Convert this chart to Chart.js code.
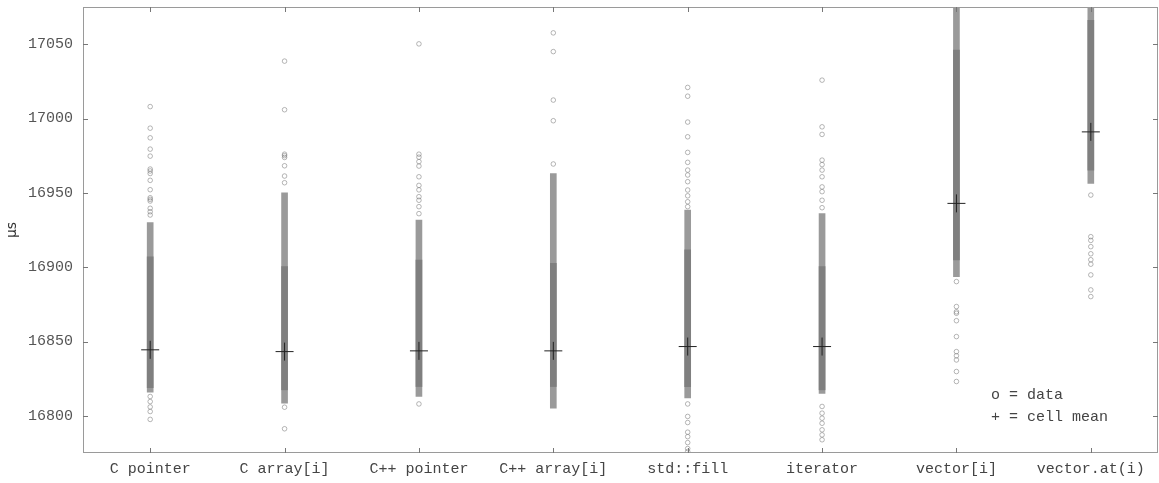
<!DOCTYPE html>
<html lang="en">
<head>
    <meta charset="UTF-8">
    <title>Loop timing by access method</title>
    <script src="https://cdn.jsdelivr.net/npm/chart.js"></script>
    <style>
        html, body { margin: 0; padding: 0; background: #fff; }
    </style>
</head>
<body>
    <canvas id="timingChart" width="1159" height="483"></canvas>

    <script>
        // --- Data (µs per run) ---
        const categories = ['C pointer', 'C array[i]', 'C++ pointer', 'C++ array[i]', 'std::fill', 'iterator', 'vector[i]', 'vector.at(i)'];
        const cellMeans = [16844.4, 16843.2, 16843.7, 16843.7, 16846.6, 16846.6, 16942.9, 16991.0];

        // range where the samples overlap into a solid stripe
        const denseLow  = [16819, 16817.5, 16819.7, 16819.7, 16819.7, 16817.5, 16904.8, 16965.3];
        const denseHigh = [16907, 16900.4, 16904.8, 16902.6, 16911.6, 16900.4, 17046, 17066];
        // looser stacked region around the stripe
        const looseLow  = [16816, 16808.5, 16813, 16805.2, 16812, 16815, 16893.6, 16956.4];
        const looseHigh = [16930, 16950, 16931.7, 16963, 16938.4, 16936, 17075, 17075];

        // isolated samples outside the stripes, one list per category
        const outliersCPointer = [17008, 16993.5, 16987, 16979.4, 16974.7, 16966, 16964.7, 16963, 16958.4, 16952.1, 16946.7, 16945.6, 16944.5, 16939.6, 16937.3, 16935.1, 16813, 16809.6, 16806, 16802.9, 16797.6];
        const outliersCArray = [17038.6, 17005.9, 16976, 16975, 16973.8, 16968.2, 16961.3, 16956.8, 16805.8, 16791.3];
        const outliersCppPointer = [17050.2, 16976, 16974, 16971, 16968, 16960.8, 16955, 16952, 16947.4, 16945, 16940.7, 16936, 16808];
        const outliersCppArray = [17057.6, 17045, 17012.4, 16998.5, 16969.4];
        const outliersStdFill = [17020.9, 17015, 16997.6, 16987.7, 16977.2, 16970.5, 16965.3, 16962, 16957.5, 16951.9, 16948, 16944, 16940.7, 16808, 16799.6, 16795.5, 16789, 16786, 16782, 16778, 16776];
        const outliersIterator = [17025.8, 16994.4, 16989.3, 16972, 16969, 16965.3, 16960.8, 16954, 16950.8, 16945, 16940, 16806.3, 16801.8, 16798.4, 16795, 16790.6, 16787.2, 16783.9];
        const outliersVector = [16890.3, 16873.5, 16870, 16869, 16864, 16853.3, 16843.2, 16840.4, 16837.6, 16829.8, 16823.1];
        const outliersVectorAt = [16948.5, 16920.5, 16918, 16913.8, 16909, 16905, 16902, 16894.8, 16884.7, 16880.2];

        const yTicks = [16800, 16850, 16900, 16950, 17000, 17050];
        const yMin = 16775;
        const yMax = 17075;
        const legendLines = ['o = data', '+ = cell mean'];

        // --- Build datasets ---
        const outlierLists = [outliersCPointer, outliersCArray, outliersCppPointer, outliersCppArray,
                              outliersStdFill, outliersIterator, outliersVector, outliersVectorAt];
        const outlierPoints = [];
        outlierLists.forEach((list, i) => {
            list.forEach(v => outlierPoints.push({ x: categories[i], y: v }));
        });

        const MONO = '"Liberation Mono", "DejaVu Sans Mono", monospace';

        // the big mean crosses would otherwise reserve ~10px around the plot
        Chart.LineController.prototype.getMaxOverflow = function () { return 0; };

        // frame, inward tick marks and the text legend
        const framePlugin = {
            id: 'frame',
            afterDraw(chart) {
                const { ctx, chartArea: a, scales } = chart;
                ctx.save();
                ctx.strokeStyle = '#9a9a9a';
                ctx.lineWidth = 1;
                ctx.strokeRect(a.left + 0.5, a.top + 0.5, a.right - a.left - 1, a.bottom - a.top - 1);

                ctx.strokeStyle = '#777';
                ctx.beginPath();
                scales.y.ticks.forEach(t => {
                    const py = Math.round(scales.y.getPixelForValue(t.value)) + 0.5;
                    ctx.moveTo(a.left, py); ctx.lineTo(a.left + 5, py);
                    ctx.moveTo(a.right, py); ctx.lineTo(a.right - 5, py);
                });
                categories.forEach((c, i) => {
                    const px = Math.round(scales.x.getPixelForValue(i)) + 0.5;
                    ctx.moveTo(px, a.top); ctx.lineTo(px, a.top + 5);
                    ctx.moveTo(px, a.bottom); ctx.lineTo(px, a.bottom - 5);
                });
                ctx.stroke();

                ctx.fillStyle = '#444';
                ctx.font = '15px ' + MONO;
                ctx.textBaseline = 'middle';
                ctx.textAlign = 'left';
                legendLines.forEach((line, i) => {
                    ctx.fillText(line, a.right - 167, a.bottom - 58 + i * 22);
                });
                ctx.restore();
            }
        };

        const ctx = document.getElementById('timingChart').getContext('2d');
        new Chart(ctx, {
            data: {
                labels: categories,
                datasets: [
                    {
                        type: 'line',
                        label: 'cell mean',
                        data: cellMeans,
                        showLine: false,
                        pointStyle: 'cross',
                        pointRadius: 9,
                        pointBorderWidth: 1,
                        borderColor: '#222',
                        order: 0
                    },
                    {
                        type: 'line',
                        label: 'data',
                        data: outlierPoints,
                        showLine: false,
                        pointStyle: 'circle',
                        pointRadius: 2.3,
                        pointBorderWidth: 0.9,
                        borderColor: 'rgba(120,120,120,0.6)',
                        backgroundColor: 'rgba(0,0,0,0)',
                        order: 1
                    },
                    {
                        type: 'bar',
                        label: 'dense',
                        data: denseLow.map((lo, i) => [lo, denseHigh[i]]),
                        backgroundColor: '#7f7f7f',
                        barThickness: 6,
                        grouped: false,
                        order: 2
                    },
                    {
                        type: 'bar',
                        label: 'loose',
                        data: looseLow.map((lo, i) => [lo, looseHigh[i]]),
                        backgroundColor: '#9a9a9a',
                        barThickness: 6,
                        grouped: false,
                        order: 3
                    }
                ]
            },
            options: {
                responsive: false,
                animation: false,
                layout: { padding: { top: 7, right: 1, left: 0, bottom: 0 } },
                plugins: {
                    legend: { display: false },
                    tooltip: { enabled: false }
                },
                scales: {
                    x: {
                        type: 'category',
                        offset: true,
                        grid: { display: false, drawTicks: false },
                        border: { display: false },
                        ticks: { color: '#444', font: { family: MONO, size: 15 }, padding: 7, maxRotation: 0, autoSkip: false },
                        afterFit(scale) {
                            scale.height = 30;
                            scale.paddingLeft = 0;
                            scale.paddingRight = 0;
                        }
                    },
                    y: {
                        min: yMin,
                        max: yMax,
                        grid: { display: false, drawTicks: false },
                        border: { display: false },
                        afterBuildTicks(scale) { scale.ticks = yTicks.map(v => ({ value: v })); },
                        ticks: { color: '#555', font: { family: MONO, size: 15 }, padding: 10, callback: v => String(v) },
                        title: { display: true, text: 'µs', color: '#333', font: { family: '"DejaVu Sans", sans-serif', size: 14 }, padding: { top: 4, bottom: 0 } },
                        afterFit(scale) {
                            scale.width = 83;
                            scale.paddingTop = 0;
                            scale.paddingBottom = 0;
                        }
                    }
                }
            },
            plugins: [framePlugin]
        });
    </script>
</body>
</html>
